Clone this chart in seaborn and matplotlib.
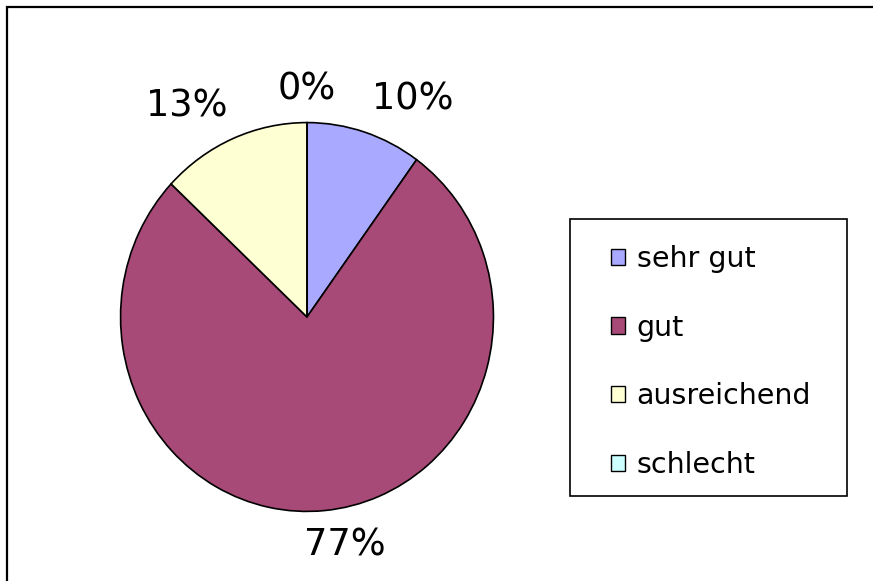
import numpy as np
import matplotlib
matplotlib.use("Agg")
import matplotlib.pyplot as plt
from matplotlib.patches import Rectangle, Patch
import seaborn as sns

categories = ["sehr gut", "gut", "ausreichend", "schlecht"]
values = [10, 77, 13, 0]
colors = ["#A9A9FF", "#A84A77", "#FFFFD4", "#CCFFFF"]

sns.set_theme(style="white")
plt.rcParams['font.family'] = ['DejaVu Sans']

W, H = 873, 581
fig = plt.figure(figsize=(W / 100, H / 100), dpi=100)
fig.patch.set_facecolor("white")

# outer chart frame (only top/left visible in the reference)
fig.add_artist(Rectangle((7 / W, -0.05), 1.1, 1 - 7 / H + 0.05, transform=fig.transFigure,
                         fill=False, edgecolor="black", linewidth=1.6))

# pie axes in pixel box (slightly elliptical as in reference)
left, right, top, bottom = 120, 494, 122, 512
ax = fig.add_axes([left / W, 1 - bottom / H, (right - left) / W, (bottom - top) / H])
wedges, _ = ax.pie(values, colors=colors, startangle=90, counterclock=False,
                   wedgeprops=dict(edgecolor="black", linewidth=1.2), normalize=True)
ax.set_aspect("auto")
ax.set_xlim(-1.003, 1.003)
ax.set_ylim(-1.003, 1.003)
ax.axis("off")

# percentage labels placed just outside the pie (small horizontal nudges in px)
nudge_px = [3, 19, 0, 0]
total = sum(values)
r = 1.08
for w, v, nd in zip(wedges, values, nudge_px):
    theta = np.deg2rad((w.theta1 + w.theta2) / 2)
    c, s = np.cos(theta), np.sin(theta)
    x, y = r * c + nd / ((right - left) / 2), r * s
    if abs(c) < 0.15:
        ha = "center"
    else:
        ha = "left" if c > 0 else "right"
    va = "bottom" if s > 0 else "top"
    ax.text(x, y, f"{round(100 * v / total)}%", ha=ha, va=va, fontsize=26.5,
            color="black", clip_on=False)

# legend box
lx0, ly0, lx1, ly1 = 570, 219, 847, 496
fig.add_artist(Rectangle((lx0 / W, 1 - ly1 / H), (lx1 - lx0) / W, (ly1 - ly0) / H,
                         transform=fig.transFigure, fill=True, facecolor="white",
                         edgecolor="black", linewidth=1.2, zorder=2))
handles = [Patch(facecolor=col, edgecolor="black", linewidth=1.0) for col in colors]
leg = fig.legend(handles, categories, loc="upper left",
                 bbox_to_anchor=(611 / W, 1 - 245 / H),
                 fontsize=20.5, frameon=False, borderpad=0,
                 handlelength=0.5, handleheight=0.5,
                 handletextpad=0.4, labelspacing=1.43, borderaxespad=0)
leg.set_zorder(3)
for t in leg.get_texts():
    t.set_color("black")

fig.savefig("out.png", dpi=100, facecolor="white")
